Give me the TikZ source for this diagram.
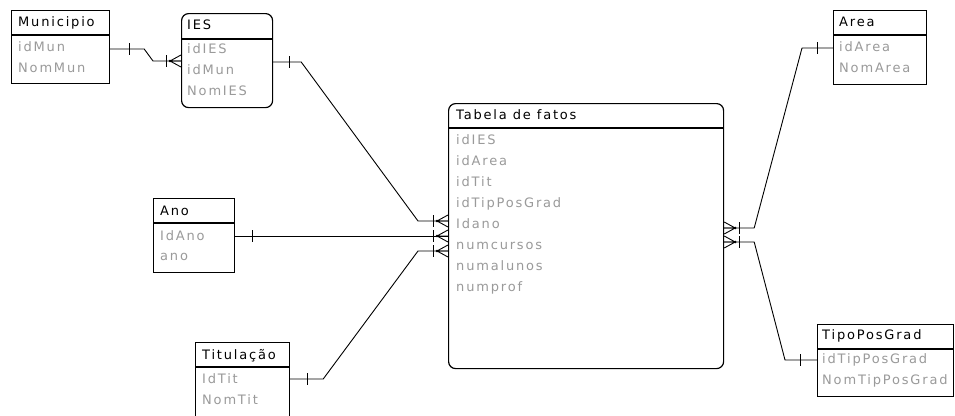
\documentclass[tikz,border=0pt]{standalone}
\usepackage{fontspec}
\setmainfont[LetterSpace=14]{DejaVu Sans}
\usetikzlibrary{calc}
\definecolor{attgray}{HTML}{9A9A9A}
\begin{document}
\begin{tikzpicture}[x=1pt,y=-1pt,
  ent/.style={draw=black, line width=1.2pt, inner sep=0pt, anchor=north west, fill=white},
  rent/.style={ent, rounded corners=7pt},
  hdr/.style={anchor=west, inner sep=0pt, font=\fontsize{13}{15}\selectfont, text=black, text height=9.5pt, text depth=3pt},
  att/.style={hdr, text=attgray},
  sepl/.style={line width=1.4pt},
  conn/.style={line width=0.9pt, line join=round},
  pics/manyL/.style={code={
    \draw[conn] (-11,0) -- (0,-6) (-11,0) -- (0,0) (-11,0) -- (0,6);
    \draw[conn] (-15,-6) -- (-15,6);
    \fill (-11,0) circle (1.3pt);}},
  pics/oneT/.style={code={\draw[conn] (0,-6) -- (0,6);}}
]
\useasboundingbox (0,0) rectangle (955,415);
\clip (0,0) rectangle (955,415);

% entities
\node[ent, minimum width=98pt, minimum height=73pt] (mun) at (11,10) {};
\draw[sepl] (mun.west |- 0,35) -- (mun.east |- 0,35);
\node[hdr] (munh) at (18,23) {Municipio};
\node[att] (muna) at (18,48) {idMun};
\node[att] (munb) at (18,69) {NomMun};

\node[rent, minimum width=91pt, minimum height=94pt] (ies) at (181,13) {};
\draw[sepl] (ies.west |- 0,39) -- (ies.east |- 0,39);
\node[hdr] (iesh) at (187,26) {IES};
\node[att] (iesa) at (187,50) {idIES};
\node[att] (iesb) at (187,71) {idMun};
\node[att] (iesc) at (187,92) {NomIES};

\node[rent, minimum width=275pt, minimum height=265pt] (tab) at (448,103) {};
\draw[sepl] (tab.west |- 0,128) -- (tab.east |- 0,128);
\node[hdr] (tabh) at (456,116) {Tabela de fatos};
\node[att] (taba) at (456,141) {idIES};
\node[att] (tabb) at (456,162) {idArea};
\node[att] (tabc) at (456,183) {idTit};
\node[att] (tabd) at (456,204) {idTipPosGrad};
\node[att] (tabe) at (456,225) {Idano};
\node[att] (tabf) at (456,246) {numcursos};
\node[att] (tabg) at (456,267) {numalunos};
\node[att] (tabi) at (456,288) {numprof};

\node[ent, minimum width=81pt, minimum height=74pt] (ano) at (153,198) {};
\draw[sepl] (ano.west |- 0,223) -- (ano.east |- 0,223);
\node[hdr] (anoh) at (160,212) {Ano};
\node[att] (anoa) at (160,237) {IdAno};
\node[att] (anob) at (160,257) {ano};

\node[ent, minimum width=94pt, minimum height=100pt] (tit) at (195,342) {};
\draw[sepl] (tit.west |- 0,367) -- (tit.east |- 0,367);
\node[hdr] (tith) at (202,356) {Titulação};
\node[att] (tita) at (202,380) {IdTit};
\node[att] (titb) at (202,401) {NomTit};

\node[ent, minimum width=93pt, minimum height=74pt] (area) at (833,10) {};
\draw[sepl] (area.west |- 0,35) -- (area.east |- 0,35);
\node[hdr] (areah) at (839,23) {Area};
\node[att] (areaa) at (839,48) {idArea};
\node[att] (areab) at (839,69) {NomArea};

\node[ent, minimum width=136pt, minimum height=72pt] (tpg) at (817,324) {};
\draw[sepl] (tpg.west |- 0,349) -- (tpg.east |- 0,349);
\node[hdr] (tpgh) at (822,336) {TipoPosGrad};
\node[att] (tpga) at (822,360) {idTipPosGrad};
\node[att] (tpgb) at (822,381) {NomTipPosGrad};

% connection points
\coordinate (mun-r) at (mun.east |- 0,49);
\coordinate (ies-l) at (ies.west |- 0,61);
\coordinate (ies-r) at (ies.east |- 0,62);
\coordinate (tab-l1) at (tab.west |- 0,221);
\coordinate (tab-l2) at (tab.west |- 0,236);
\coordinate (tab-l3) at (tab.west |- 0,251);
\coordinate (ano-r) at (ano.east |- 0,236);
\coordinate (tit-r) at (tit.east |- 0,379);
\coordinate (tab-r1) at (tab.east |- 0,228);
\coordinate (tab-r2) at (tab.east |- 0,242);
\coordinate (area-l) at (area.west |- 0,48);
\coordinate (tpg-l) at (tpg.west |- 0,360);

% connectors
\draw[conn] (mun-r) -- ++(34,0) -- (153,61) -- (ies-l);
\pic at ($(mun-r)+(19,0)$) {oneT};
\pic at (ies-l) {manyL};

\draw[conn] (ies-r) -- ++(28,0) -- (418,221) -- (tab-l1);
\pic at ($(ies-r)+(16,0)$) {oneT};
\pic at (tab-l1) {manyL};

\draw[conn] (ano-r) -- (tab-l2);
\pic at ($(ano-r)+(17,0)$) {oneT};
\pic at (tab-l2) {manyL};

\draw[conn] (tit-r) -- ++(33,0) -- (418,251) -- (tab-l3);
\pic at ($(tit-r)+(17,0)$) {oneT};
\pic at (tab-l3) {manyL};

\draw[conn] (tab-r1) -- ++(30,0) -- (802,48) -- (area-l);
\pic[xscale=-1] at (tab-r1) {manyL};
\pic at ($(area-l)+(-16,0)$) {oneT};

\draw[conn] (tab-r2) -- ++(30,0) -- (785,360) -- (tpg-l);
\pic[xscale=-1] at (tab-r2) {manyL};
\pic at ($(tpg-l)+(-17,0)$) {oneT};
\end{tikzpicture}
\end{document}
